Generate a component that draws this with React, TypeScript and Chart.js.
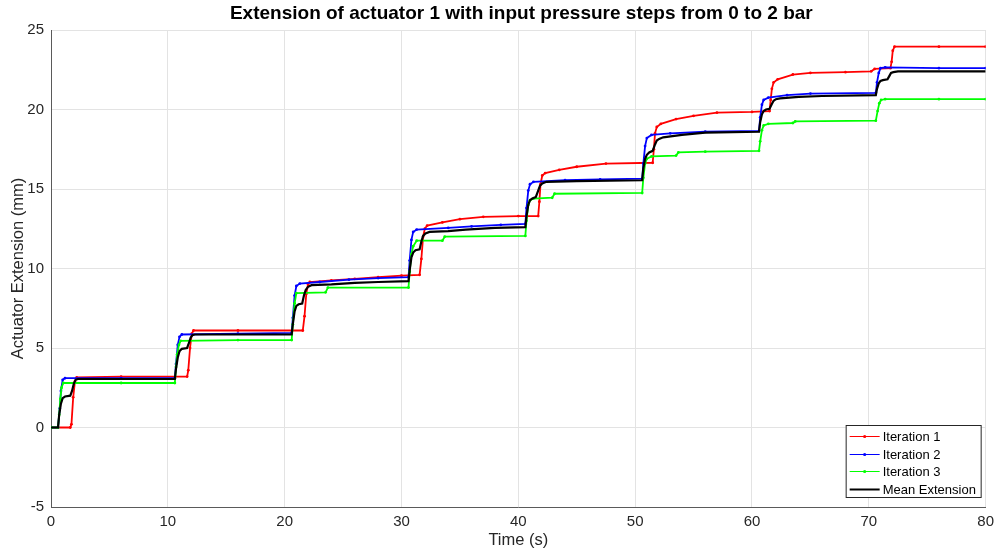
import React, { useEffect, useRef } from "react";
import { Chart, registerables } from "chart.js";

Chart.register(...registerables);

// Iteration 1 (red)
const t1 = [0, 1.65, 1.75, 1.9, 2.05, 2.2, 6, 11.65, 11.75, 11.9, 12.05, 12.2, 16, 21.55, 21.7, 21.85, 22.0, 22.15, 24, 26, 28, 30, 31.55, 31.7, 31.85, 32.0, 32.2, 33.5, 35, 37, 40, 41.7, 41.8, 41.9, 42.05, 42.3, 43.5, 45, 47.5, 51.5, 51.6, 51.7, 51.85, 52.2, 53.5, 55, 57, 60, 61.5, 61.6, 61.7, 61.85, 62.2, 63.5, 65, 68, 70.2, 70.5, 71.85, 71.95, 72.05, 72.2, 76, 80];
const v1 = [0, 0, 0.2, 1.9, 2.9, 3.15, 3.2, 3.2, 3.6, 5.0, 5.9, 6.1, 6.1, 6.1, 7.0, 8.4, 9.0, 9.15, 9.25, 9.35, 9.45, 9.55, 9.6, 10.6, 12.0, 12.5, 12.7, 12.9, 13.1, 13.25, 13.3, 13.3, 14.2, 15.3, 15.85, 16.0, 16.2, 16.4, 16.6, 16.65, 17.5, 18.5, 18.9, 19.1, 19.4, 19.6, 19.8, 19.85, 19.9, 20.6, 21.3, 21.7, 21.9, 22.2, 22.3, 22.35, 22.4, 22.55, 22.6, 23.0, 23.7, 23.95, 23.95, 23.95];

// Iteration 2 (blue)
const t2 = [0, 0.6, 0.75, 0.85, 1.0, 1.2, 6, 10.6, 10.7, 10.85, 11.0, 11.2, 16, 20.6, 20.7, 20.85, 21.0, 21.3, 23, 25.5, 28, 30.6, 30.7, 30.85, 31.0, 31.3, 34, 36, 38.5, 40.6, 40.7, 40.85, 41.0, 41.3, 44, 47, 50.6, 50.7, 50.85, 51.0, 51.4, 53, 56, 60.6, 60.7, 60.85, 61.0, 61.4, 63, 65, 70.6, 70.7, 70.85, 71.0, 71.4, 76, 80];
const v2 = [0, 0, 1.2, 2.3, 3.0, 3.1, 3.1, 3.1, 4.0, 5.2, 5.7, 5.85, 5.9, 5.95, 6.9, 8.3, 8.9, 9.05, 9.15, 9.3, 9.4, 9.45, 10.5, 11.8, 12.3, 12.45, 12.55, 12.65, 12.75, 12.8, 13.8, 14.9, 15.3, 15.45, 15.55, 15.6, 15.65, 16.6, 17.7, 18.2, 18.4, 18.5, 18.6, 18.65, 19.5, 20.3, 20.6, 20.75, 20.9, 21.0, 21.05, 21.7, 22.3, 22.6, 22.65, 22.6, 22.6];

// Iteration 3 (green)
const t3 = [0, 0.6, 0.7, 0.8, 0.9, 1.05, 6, 10.6, 10.7, 10.8, 10.95, 11.1, 16, 20.6, 20.7, 20.85, 21.0, 23.5, 23.7, 30.6, 30.7, 30.85, 31.0, 31.3, 33.5, 33.7, 40.6, 40.7, 40.85, 41.0, 41.3, 42.9, 43.1, 50.6, 50.7, 50.85, 51.0, 51.4, 53.5, 53.7, 56, 60.6, 60.7, 60.85, 61.0, 61.4, 63.5, 63.7, 70.6, 70.75, 70.9, 71.05, 71.4, 76, 80];
const v3 = [0, 0, 0.8, 1.8, 2.5, 2.8, 2.8, 2.8, 3.8, 4.6, 5.2, 5.45, 5.5, 5.5, 6.5, 7.8, 8.45, 8.5, 8.8, 8.8, 9.8, 10.9, 11.4, 11.75, 11.75, 12.0, 12.05, 13.0, 14.0, 14.3, 14.4, 14.45, 14.7, 14.75, 15.7, 16.6, 16.9, 17.05, 17.1, 17.3, 17.35, 17.4, 18.0, 18.7, 19.0, 19.1, 19.15, 19.25, 19.3, 19.9, 20.4, 20.6, 20.65, 20.65, 20.65];

// Mean extension (black)
const tm = [0, 0.6, 0.7, 0.85, 1.0, 1.2, 1.65, 1.8, 1.95, 2.1, 2.3, 6, 10.6, 10.7, 10.85, 11.0, 11.2, 11.65, 11.8, 11.95, 12.1, 12.3, 16, 20.6, 20.7, 20.85, 21.0, 21.2, 21.5, 21.65, 21.8, 22.0, 22.3, 24, 26, 28, 30.6, 30.7, 30.85, 31.0, 31.2, 31.55, 31.7, 31.85, 32.05, 32.4, 34, 35.5, 38, 40.6, 40.7, 40.85, 41.0, 41.2, 41.5, 41.7, 41.85, 42.05, 42.4, 45, 50.6, 50.7, 50.85, 51.0, 51.2, 51.5, 51.7, 51.85, 52.05, 52.4, 54, 56, 60.6, 60.7, 60.85, 61.0, 61.2, 61.5, 61.7, 61.85, 62.05, 62.4, 64, 66, 70.6, 70.7, 70.85, 71.0, 71.2, 71.6, 71.75, 71.9, 72.1, 72.5, 80];
const vm = [0, 0, 0.8, 1.5, 1.85, 1.95, 2.0, 2.3, 2.75, 3.0, 3.05, 3.05, 3.05, 3.7, 4.4, 4.8, 4.95, 5.0, 5.3, 5.65, 5.8, 5.85, 5.85, 5.85, 6.5, 7.3, 7.65, 7.75, 7.8, 8.3, 8.65, 8.85, 8.95, 9.0, 9.1, 9.15, 9.2, 9.9, 10.7, 11.0, 11.15, 11.2, 11.7, 12.05, 12.2, 12.3, 12.35, 12.45, 12.55, 12.6, 13.3, 14.0, 14.3, 14.4, 14.5, 14.9, 15.2, 15.35, 15.45, 15.5, 15.55, 16.3, 16.9, 17.15, 17.3, 17.4, 17.8, 18.05, 18.15, 18.25, 18.4, 18.55, 18.6, 19.2, 19.7, 19.9, 20.0, 20.05, 20.35, 20.55, 20.65, 20.7, 20.8, 20.85, 20.9, 21.3, 21.65, 21.8, 21.85, 21.9, 22.1, 22.3, 22.35, 22.4, 22.4];

const seriesNames = ["Iteration 1", "Iteration 2", "Iteration 3", "Mean Extension"];
const seriesColors = ["#ff0000", "#0000ff", "#00ff00", "#000000"];

const xTicks = [0, 10, 20, 30, 40, 50, 60, 70, 80];
const yTicks = [-5, 0, 5, 10, 15, 20, 25];

const titleText = "Extension of actuator 1 with input pressure steps from 0 to 2 bar";
const xLabel = "Time (s)";
const yLabel = "Actuator Extension (mm)";

const FONT = "'Liberation Sans', Arial, Helvetica, sans-serif";
const TEXT = "#262626";

const toPoints = (ts: number[], vs: number[]) => ts.map((t, i) => ({ x: t, y: vs[i] }));

const titlePlugin = {
  id: "plotTitle",
  afterDraw(chart: any) {
    const { ctx, chartArea } = chart;
    ctx.save();
    ctx.font = `bold 19px ${FONT}`;
    ctx.fillStyle = "#000000";
    ctx.textAlign = "center";
    ctx.textBaseline = "middle";
    ctx.fillText(titleText, (chartArea.left + chartArea.right) / 2 + 3, 14);
    ctx.restore();
  },
};

const legendPlugin = {
  id: "boxLegend",
  afterDatasetsDraw(chart: any) {
    const { ctx, chartArea } = chart;
    const w = 135;
    const h = 72;
    const x = chartArea.right - 5 - w;
    const y = chartArea.bottom - 10 - h;
    ctx.save();
    ctx.fillStyle = "#ffffff";
    ctx.fillRect(x, y, w, h);
    ctx.strokeStyle = "#262626";
    ctx.lineWidth = 1;
    ctx.strokeRect(x + 0.5, y + 0.5, w, h);
    ctx.font = `13px ${FONT}`;
    ctx.textBaseline = "middle";
    ctx.textAlign = "left";
    seriesNames.forEach((name, i) => {
      const ry = Math.round(y + 11 + i * 17.5) + 0.5;
      ctx.strokeStyle = seriesColors[i];
      ctx.lineWidth = i === 3 ? 2 : 1;
      ctx.beginPath();
      ctx.moveTo(x + 4, ry);
      ctx.lineTo(x + 34, ry);
      ctx.stroke();
      if (i < 3) {
        ctx.fillStyle = seriesColors[i];
        ctx.beginPath();
        ctx.arc(x + 19, ry, 1.6, 0, Math.PI * 2);
        ctx.fill();
      }
      ctx.fillStyle = "#000000";
      ctx.fillText(name, x + 37, ry + 0.5);
    });
    ctx.restore();
  },
};

export default function App() {
  const canvasRef = useRef<HTMLCanvasElement | null>(null);

  useEffect(() => {
    document.body.style.margin = "0";
    const canvas = canvasRef.current;
    if (!canvas) return;

    const seriesData = [toPoints(t1, v1), toPoints(t2, v2), toPoints(t3, v3), toPoints(tm, vm)];

    const chart = new Chart(canvas, {
      type: "line",
      data: {
        datasets: seriesData.map((pts, i) => ({
          label: seriesNames[i],
          data: pts,
          borderColor: seriesColors[i],
          backgroundColor: seriesColors[i],
          borderWidth: i === 3 ? 2.2 : 1.8,
          pointRadius: i === 3 ? 0 : 1.4,
          pointBorderWidth: 0,
          pointHoverRadius: 0,
          tension: 0,
          fill: false,
          order: 4 - i,
        })),
      },
      options: {
        responsive: false,
        animation: false,
        devicePixelRatio: 1,
        layout: { padding: { top: 30, right: 13, left: 0, bottom: 0 } },
        plugins: {
          legend: { display: false },
          title: { display: false },
          tooltip: { enabled: false },
        },
        scales: {
          x: {
            type: "linear",
            min: 0,
            max: 80,
            afterBuildTicks: (s: any) => {
              s.ticks = xTicks.map((v) => ({ value: v }));
            },
            afterFit: (s: any) => {
              s.height = 48;
            },
            grid: { color: "#e3e3e3", drawTicks: false },
            border: { display: true, color: "#5a5a5a", width: 1 },
            ticks: {
              color: TEXT,
              font: { family: FONT, size: 15 },
              padding: 6,
              maxRotation: 0,
            },
            title: {
              display: true,
              text: xLabel,
              color: TEXT,
              font: { family: FONT, size: 16.5 },
              padding: { top: 0, bottom: 5 },
            },
          },
          y: {
            type: "linear",
            min: -5,
            max: 25,
            afterBuildTicks: (s: any) => {
              s.ticks = yTicks.map((v) => ({ value: v }));
            },
            afterFit: (s: any) => {
              s.width = 51;
            },
            grid: { color: "#e3e3e3", drawTicks: false },
            border: { display: true, color: "#5a5a5a", width: 1 },
            ticks: {
              color: TEXT,
              font: { family: FONT, size: 15 },
              padding: 7,
            },
            title: {
              display: true,
              text: yLabel,
              color: TEXT,
              font: { family: FONT, size: 16.5 },
              padding: { top: 9, bottom: 0 },
            },
          },
        },
      },
      plugins: [titlePlugin, legendPlugin],
    });

    return () => {
      chart.destroy();
    };
  }, []);

  return (
    <div style={{ width: 1000, height: 555, background: "#ffffff" }}>
      <canvas ref={canvasRef} width={1000} height={555} style={{ display: "block" }} />
    </div>
  );
}
